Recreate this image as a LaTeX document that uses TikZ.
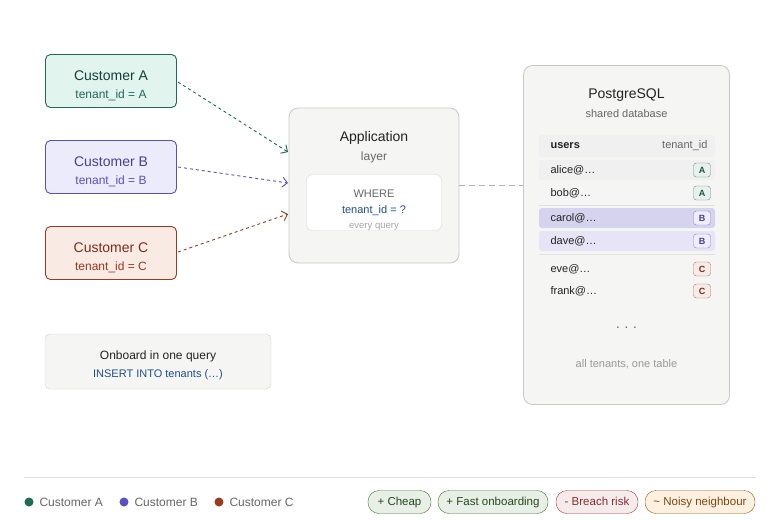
\documentclass[tikz,border=0pt]{standalone}
\usepackage{fontspec}
\setmainfont{Liberation Sans}
\usetikzlibrary{arrows.meta}
\definecolor{ga}{HTML}{1E6B55}\definecolor{gaf}{HTML}{E1F4EE}
\definecolor{pb}{HTML}{5A4FC0}\definecolor{pbf}{HTML}{ECEBFB}
\definecolor{rc}{HTML}{9A3A1E}\definecolor{rcf}{HTML}{FAEAE4}
\definecolor{panel}{HTML}{F5F5F3}\definecolor{bd}{HTML}{C8C8C8}
\definecolor{txt}{HTML}{222222}\definecolor{sub}{HTML}{666666}
\definecolor{blu}{HTML}{1F4E8C}
\begin{document}
\begin{tikzpicture}[x=1pt,y=-1pt,font=\fontsize{13}{15}\selectfont,
 cust/.style={draw,rounded corners=5,line width=0.9pt,minimum width=131,minimum height=53},
 pan/.style={draw=bd,fill=panel,rounded corners=9,line width=0.8pt},
 row/.style={rounded corners=3},
 tag/.style={draw,rounded corners=3,minimum width=17,minimum height=14,inner sep=0,font=\fontsize{9}{9}\selectfont\bfseries},
 conn/.style={dashed,line width=0.9pt,-{Straight Barb[length=5pt]}},
 pill/.style={draw,rounded corners=11,minimum height=23,text height=9,text depth=3,inner xsep=0,font=\fontsize{11.5}{12}\selectfont},
 lab/.style={font=\fontsize{12}{12}\selectfont,text=txt}]
\useasboundingbox (0,0) rectangle (780,520);
\fill[white] (0,0) rectangle (780,520);
% customers
\node[cust,draw=ga,fill=gaf] (a) at (111,81) {};
\node[text=ga!60!black,font=\fontsize{14}{14}\selectfont] (at) at (111,75.5) {Customer A};
\node[text=ga,font=\fontsize{12}{12}\selectfont] (as) at (111,95) {tenant\_id = A};
\node[cust,draw=pb,fill=pbf] (b) at (111,167) {};
\node[text=pb!80!black,font=\fontsize{14}{14}\selectfont] (bt) at (111,161.5) {Customer B};
\node[text=pb,font=\fontsize{12}{12}\selectfont] (bs) at (111,181) {tenant\_id = B};
\node[cust,draw=rc,fill=rcf] (c) at (111,253) {};
\node[text=rc!80!black,font=\fontsize{14}{14}\selectfont] (ct) at (111,247.5) {Customer C};
\node[text=rc,font=\fontsize{12}{12}\selectfont] (cs) at (111,267) {tenant\_id = C};
% application
\node[pan,minimum width=170,minimum height=155] (app) at (374,185.5) {};
\node[text=txt,font=\fontsize{14}{14}\selectfont] (apt) at (374,138) {Application};
\node[text=sub,font=\fontsize{12}{12}\selectfont] (apl) at (374,157) {layer};
\node[draw=bd!70,fill=white,rounded corners=6,minimum width=135,minimum height=56] (wh) at (374,202.5) {};
\node[text=sub,font=\fontsize{11}{11}\selectfont] (w1) at (374,194) {WHERE};
\node[text=blu,font=\fontsize{11}{11}\selectfont] (w2) at (374,211) {tenant\_id = ?};
\node[text=gray!70,font=\fontsize{9.5}{9.5}\selectfont] (w3) at (374,227) {every query};
\coordinate (ia) at (288,152);\coordinate (ib) at (288,183);\coordinate (ic) at (288,214);
\draw[conn,ga] (178,82) -- (ia);
\draw[conn,pb] (178,167) -- (ib);
\draw[conn,rc] (178,252) -- (ic);
% database
\node[pan,minimum width=206,minimum height=339] (db) at (626.5,235) {};
\draw[gray!60,line width=0.9pt,dash pattern=on 6pt off 4pt] (app.east) -- (db.west|-app.east);
\node[text=txt,font=\fontsize{14}{14}\selectfont] (dbt) at (626.5,95) {PostgreSQL};
\node[text=sub,font=\fontsize{11}{11}\selectfont] (dbs) at (626.5,114) {shared database};
\fill[row,black!6] (539,135) rectangle (715,157);
\node[anchor=west,font=\fontsize{11}{11}\selectfont\bfseries,text=txt] (hu) at (547,146) {users};
\node[anchor=east,font=\fontsize{11}{11}\selectfont,text=sub] (ht) at (711,146) {tenant\_id};
\fill[row,black!6] (539,160) rectangle (715,180);
\fill[row,black!4] (539,183) rectangle (715,203);
\fill[row,pb!25] (539,208) rectangle (715,228);
\fill[row,pb!15] (539,231) rectangle (715,251);
\draw[black!12] (539,205.5) -- (715,205.5);
\draw[black!12] (539,254.5) -- (715,254.5);
\foreach \n/\y/\t/\col in {alice/170/A/ga,bob/193/A/ga,carol/218/B/pb,dave/241/B/pb,eve/269/C/rc,frank/291/C/rc}{
 \node[anchor=west,font=\fontsize{11}{11}\selectfont,text=txt] (r\n) at (547,\y) {\n@…};
 \node[tag,draw=\col!70,fill=\col!10,text=\col!80!black] (t\n) at (702,\y) {\t};
}
\node[text=sub,font=\fontsize{14}{14}\selectfont] (dots) at (626.5,329) {· · ·};
\node[text=gray!80,font=\fontsize{11}{11}\selectfont] (dbf) at (626.5,364) {all tenants, one table};
% onboard
\node[draw=bd!80,fill=panel,rounded corners=5,minimum width=226,minimum height=55] (ob) at (158,361.5) {};
\node[text=txt,font=\fontsize{12}{12}\selectfont] (ob1) at (158,356) {Onboard in one query};
\node[text=blu,font=\fontsize{11}{11}\selectfont] (ob2) at (158,375) {INSERT INTO tenants (…)};
% footer
\draw[black!12] (24,477) -- (756,477);
\fill[ga] (29,502) circle (4.5);\node[lab,anchor=west,text=sub] (la) at (36,502) {Customer A};
\fill[pb] (124,502) circle (4.5);\node[lab,anchor=west,text=sub] (lb) at (131,502) {Customer B};
\fill[rc] (219,502) circle (4.5);\node[lab,anchor=west,text=sub] (lc) at (226,502) {Customer C};
\definecolor{pg}{HTML}{3E7A2E}\definecolor{pr}{HTML}{A83A3A}\definecolor{po}{HTML}{9A5A1A}
\node[pill,minimum width=63,draw=pg,fill=pg!12,text=pg!60!black] (p1) at (399.5,502) {+ Cheap};
\node[pill,minimum width=110,draw=pg,fill=pg!12,text=pg!60!black] (p2) at (493,502) {+ Fast onboarding};
\node[pill,minimum width=82,draw=pr,fill=pr!10,text=pr!80!black] (p3) at (597,502) {- Breach risk};
\node[pill,minimum width=110,draw=po,fill=orange!12,text=po!80!black] (p4) at (700,502) {\textasciitilde{} Noisy neighbour};
\end{tikzpicture}
\end{document}
